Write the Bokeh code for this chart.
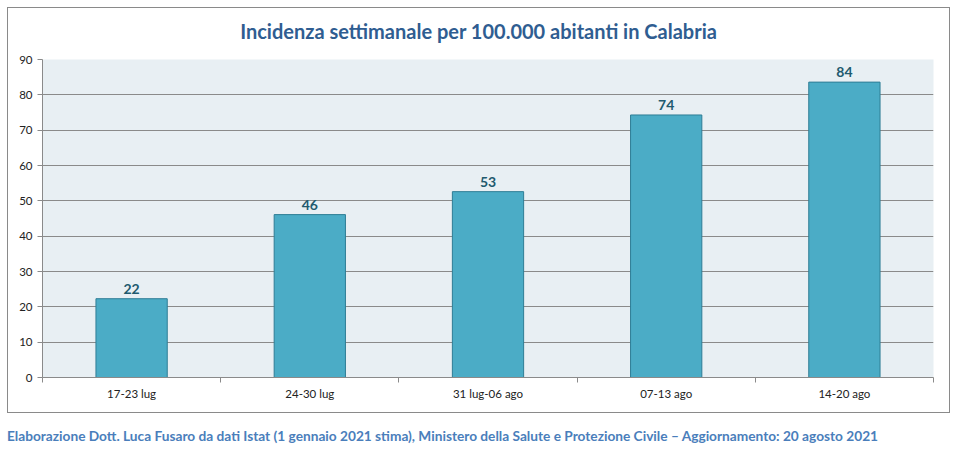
from bokeh.plotting import figure
from bokeh.models import FixedTicker, Range1d, ColumnDataSource, Div, LabelSet
from bokeh.layouts import column
from bokeh.embed import file_html
from bokeh.resources import INLINE
from bokeh.core.properties import value

categories = ["17-23 lug", "24-30 lug", "31 lug-06 ago", "07-13 ago", "14-20 ago"]
incidence = [22.3, 46.1, 52.6, 74.3, 83.6]
y_ticks = [0, 10, 20, 30, 40, 50, 60, 70, 80, 90]
title_text = "Incidenza settimanale per 100.000 abitanti in Calabria"
footer_text = ("Elaborazione Dott. Luca Fusaro da dati Istat (1 gennaio 2021 stima), "
               "Ministero della Salute e Protezione Civile \u2013 Aggiornamento: 20 agosto 2021")

FONT = "Lato"
n = len(categories)
xs = [i + 0.5 for i in range(n)]
labels = [f"{v:.0f}" for v in incidence]
src = ColumnDataSource(dict(x=xs, top=incidence, label=labels))

p = figure(output_backend="svg", toolbar_location=None,
           x_range=Range1d(0, n), y_range=Range1d(y_ticks[0], y_ticks[-1]),
           frame_width=891, frame_height=318,
           min_border_left=34, min_border_right=16,
           min_border_top=7, min_border_bottom=35)

p.background_fill_color = "#e8eff3"
p.border_fill_color = "white"
p.outline_line_color = None

p.vbar(x="x", top="top", width=0.4, source=src,
       fill_color="#4bacc6", line_color="#2e7d95", line_width=1)

lbl = LabelSet(x="x", y="top", text="label", source=src, y_offset=5,
               text_align="center", text_baseline="bottom",
               text_font=value(FONT), text_font_size="14px", text_font_style="bold",
               text_color="#215a6e")
p.add_layout(lbl)

p.xgrid.grid_line_color = None
p.ygrid.grid_line_color = "#8a8a8a"
p.ygrid.grid_line_width = 1
p.ygrid.ticker = FixedTicker(ticks=y_ticks)

p.yaxis.ticker = FixedTicker(ticks=y_ticks)
p.yaxis.axis_line_color = "#8a8a8a"
p.yaxis.major_tick_line_color = "#8a8a8a"
p.yaxis.major_tick_in = 0
p.yaxis.major_tick_out = 5
p.yaxis.minor_tick_line_color = None
p.yaxis.major_label_text_font = FONT
p.yaxis.major_label_text_font_size = "11.5px"
p.yaxis.major_label_text_color = "#222222"
p.yaxis.major_label_standoff = 5

p.xaxis.ticker = FixedTicker(ticks=xs, minor_ticks=list(range(n + 1)))
p.xaxis.major_label_overrides = {x: c for x, c in zip(xs, categories)}
p.xaxis.axis_line_color = "#8a8a8a"
p.xaxis.major_tick_line_color = None
p.xaxis.minor_tick_line_color = "#8a8a8a"
p.xaxis.minor_tick_in = 0
p.xaxis.minor_tick_out = 5
p.xaxis.major_label_text_font = FONT
p.xaxis.major_label_text_font_size = "11.5px"
p.xaxis.major_label_text_color = "#222222"
p.xaxis.major_label_standoff = 3

title_div = Div(
    text=(f'<div style="width:941px;text-align:center;padding-top:10px;'
          f'font-family:{FONT};font-size:20px;font-weight:bold;color:#2f5d91;'
          f'line-height:26px">{title_text}</div>'),
    width=941, height=44, margin=(0, 0, 0, 0))

box = column(title_div, p, spacing=0,
             styles={"border": "1px solid #8a8a8a", "background": "white"})

footer = Div(text=footer_text, width=941, height=20, margin=(13, 0, 0, 0),
             styles={"font-family": FONT, "font-size": "13.7px", "font-weight": "bold",
                     "color": "#4a7ebb", "white-space": "nowrap"})

layout = column(box, footer, spacing=0, margin=(7, 0, 0, 7))
open("out.html", "w").write(file_html(layout, INLINE))
